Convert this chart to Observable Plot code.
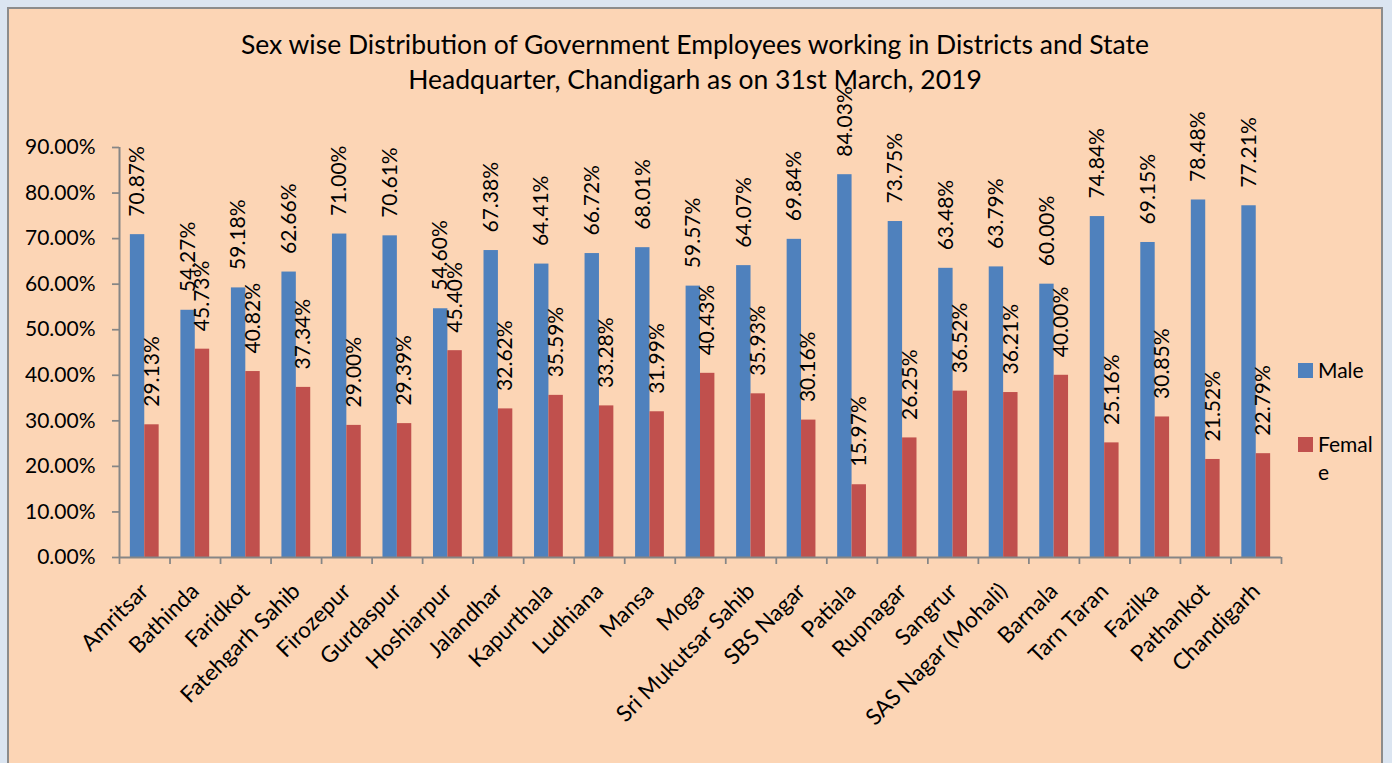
<!DOCTYPE html>
<html><head><meta charset="utf-8">
<script src="https://cdn.jsdelivr.net/npm/d3@7"></script>
<script src="https://cdn.jsdelivr.net/npm/@observablehq/plot@0.6"></script>
<style>
html,body{margin:0;padding:0;background:#DBE5F1;}
#wrap{position:relative;width:1392px;height:763px;overflow:hidden;background:#DBE5F1;font-family:Lato,sans-serif;color:#000;}
#panel{position:absolute;left:7px;top:7px;width:1376px;height:800px;background:#FCD5B5;border:2px solid #8C8C8C;box-sizing:border-box;}
#title{position:absolute;left:0;top:27px;width:1390px;text-align:center;font-size:26.5px;line-height:35px;}
#chart{position:absolute;left:0;top:0;}
.leg{position:absolute;font-size:21px;line-height:28px;}
.sw{position:absolute;width:15px;height:15px;}
</style></head>
<body>
<div id="wrap">
  <div id="panel"></div>
  <div id="chart"></div>
  <div id="title">Sex wise Distribution of Government Employees working in Districts and State<br>Headquarter, Chandigarh as on 31st March, 2019</div>
  <div class="sw" style="left:1298px;top:363px;background:#4F81BD"></div>
  <div class="leg" style="left:1318px;top:356px;">Male</div>
  <div class="sw" style="left:1298px;top:437px;background:#C0504D"></div>
  <div class="leg" style="left:1318px;top:430px;width:60px;word-break:break-all;">Female</div>
</div>
<script>
const districts = ["Amritsar","Bathinda","Faridkot","Fatehgarh Sahib","Firozepur","Gurdaspur","Hoshiarpur","Jalandhar","Kapurthala","Ludhiana","Mansa","Moga","Sri Mukutsar Sahib","SBS Nagar","Patiala","Rupnagar","Sangrur","SAS Nagar (Mohali)","Barnala","Tarn Taran","Fazilka","Pathankot","Chandigarh"];
const male = [70.87,54.27,59.18,62.66,71.00,70.61,54.60,67.38,64.41,66.72,68.01,59.57,64.07,69.84,84.03,73.75,63.48,63.79,60.00,74.84,69.15,78.48,77.21];
const female = [29.13,45.73,40.82,37.34,29.00,29.39,45.40,32.62,35.59,33.28,31.99,40.43,35.93,30.16,15.97,26.25,36.52,36.21,40.00,25.16,30.85,21.52,22.79];
const yTicks = [0,10,20,30,40,50,60,70,80,90];

const data = districts.map((d, i) => ({i, district: d, male: male[i], female: female[i]}));
const W = 1392, H = 763, ML = 119, MR = 111, MT = 147, MB = 206;
const step = (W - ML - MR) / districts.length;
const bw = 14.4;
const fmt = v => v.toFixed(2) + "%";
const gray = "#868686";

const chart = Plot.plot({
  width: W, height: H,
  marginLeft: ML, marginRight: MR, marginTop: MT, marginBottom: MB,
  style: {background: "transparent", overflow: "visible", fontFamily: "Lato, sans-serif"},
  x: {type: "linear", domain: [0, districts.length], axis: null, label: null},
  y: {domain: [0, 90], axis: null, label: null},
  marks: [
    Plot.rectY(data, {x1: "i", x2: d => d.i + 1, y: "male", fill: "#4F81BD", insetLeft: step/2 - bw, insetRight: step/2}),
    Plot.rectY(data, {x1: "i", x2: d => d.i + 1, y: "female", fill: "#C0504D", insetLeft: step/2, insetRight: step/2 - bw}),
    Plot.text(data, {x: d => d.i + 0.5, y: "male", text: d => fmt(d.male), rotate: -90, textAnchor: "start", dx: -bw/2, dy: -18, fontSize: 21, fill: "black"}),
    Plot.text(data, {x: d => d.i + 0.5, y: "female", text: d => fmt(d.female), rotate: -90, textAnchor: "start", dx: bw/2, dy: -18, fontSize: 21, fill: "black"}),
    Plot.axisY({ticks: yTicks, tickSize: 7, tickFormat: () => "", color: gray, strokeWidth: 1.75, label: null}),
    Plot.axisY({ticks: yTicks, tickSize: 0, tickPadding: 24, tickFormat: fmt, fontSize: 21, color: "black", label: null}),
    Plot.axisX({ticks: d3.range(districts.length + 1), tickSize: 7, tickFormat: () => "", color: gray, strokeWidth: 1.75, label: null}),
    Plot.axisX({ticks: d3.range(districts.length).map(i => i + 0.5), tickSize: 0, tickPadding: 30, tickRotate: -45, tickFormat: v => districts[Math.floor(v)], fontSize: 22.5, color: "black", label: null}),
    Plot.ruleX([0], {stroke: gray, strokeWidth: 2}),
    Plot.ruleY([0], {stroke: gray, strokeWidth: 2})
  ]
});
document.getElementById("chart").appendChild(chart);
</script>
</body></html>
